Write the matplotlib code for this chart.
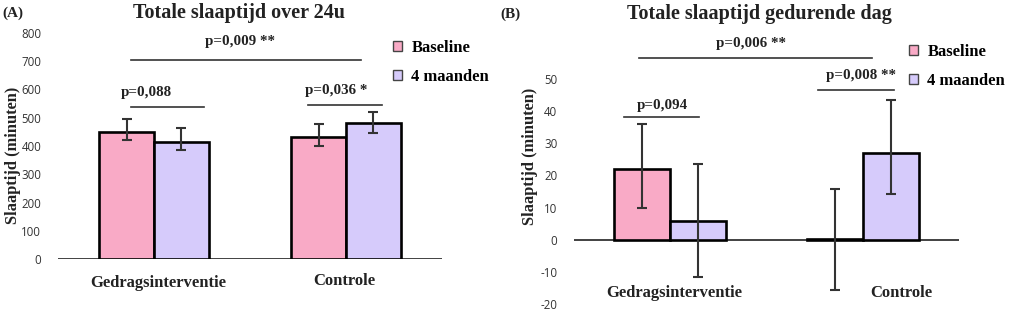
import matplotlib.pyplot as plt
from matplotlib.patches import Patch

# data
groups = ["Gedragsinterventie", "Controle"]
series = ["Baseline", "4 maanden"]

a_baseline = [451, 433]
a_baseline_lo = [30, 33]
a_baseline_hi = [44, 45]
a_followup = [415, 480]
a_followup_lo = [29, 33]
a_followup_hi = [48, 41]

b_baseline = [22.0, 0.2]
b_baseline_lo = [12.0, 15.9]
b_baseline_hi = [13.9, 15.6]
b_followup = [5.8, 26.9]
b_followup_lo = [17.5, 12.8]
b_followup_hi = [17.8, 16.7]

a_ticks = [0, 100, 200, 300, 400, 500, 600, 700, 800]
b_ticks = [-20, -10, 0, 10, 20, 30, 40, 50]

# significance brackets: (x0, x1, y, label, label_x, label_y)
a_sig = [(-0.12, 0.26, 538, "p=0,088", -0.04, 588),
         (0.80, 1.19, 546, "p=0,036 *", 0.95, 598),
         (-0.12, 1.08, 705, "p=0,009 **", 0.45, 770)]
b_sig = [(-0.24, 0.15, 38.2, "p=0,094", -0.04, 41.6),
         (0.77, 1.16, 46.6, "p=0,008 **", 0.99, 51.0),
         (-0.16, 1.05, 56.4, "p=0,006 **", 0.42, 61.0)]

PINK = "#f9aac6"
LAVENDER = "#d6cbfb"
DARK = "#333333"
TEXT = "#222222"
SERIF = "Liberation Serif"

W, H = 1024, 324
fig = plt.figure(figsize=(W / 100, H / 100), dpi=100)


def px_axes(x0, x1, y_top, y_bottom):
    return fig.add_axes([x0 / W, 1 - y_bottom / H, (x1 - x0) / W, (y_bottom - y_top) / H])


def draw_panel(ax, base, base_lo, base_hi, fup, fup_lo, fup_hi, ticks, sig, width):
    x = [0, 1]
    xb = [v - width / 2 for v in x]
    xf = [v + width / 2 for v in x]
    ax.axhline(0, color=DARK, lw=1.3, zorder=1)
    ax.bar(xb, base, width, color=PINK, edgecolor="black", linewidth=1.9, zorder=2)
    ax.bar(xf, fup, width, color=LAVENDER, edgecolor="black", linewidth=1.9, zorder=2)
    ax.errorbar(xb, base, yerr=[base_lo, base_hi], fmt="none", ecolor=DARK,
                elinewidth=1.5, capsize=3.5, capthick=1.5, zorder=3)
    ax.errorbar(xf, fup, yerr=[fup_lo, fup_hi], fmt="none", ecolor=DARK,
                elinewidth=1.5, capsize=3.5, capthick=1.5, zorder=3)
    for x0, x1, y, label, lx, ly in sig:
        ax.plot([x0, x1], [y, y], color=DARK, lw=1.2, clip_on=False)
        ax.text(lx, ly, label, ha="center", va="center", family=SERIF,
                fontweight="bold", fontsize=10.8, color=TEXT, clip_on=False)
    ax.set_xlim(-0.5, 1.5)
    ax.set_yticks(ticks)
    ax.set_yticklabels([str(t) for t in ticks], family="Open Sans", fontsize=8.3, color=DARK)
    ax.tick_params(axis="y", length=0, pad=12)
    ax.set_xticks([])
    for s in ax.spines.values():
        s.set_visible(False)
    ax.patch.set_alpha(0)


# panel A
ax_a = px_axes(58, 442, 33, 259)
ax_a.set_ylim(0, 800)
draw_panel(ax_a, a_baseline, a_baseline_lo, a_baseline_hi,
           a_followup, a_followup_lo, a_followup_hi, a_ticks, a_sig, 0.285)
ax_a.text(0.02, -85, groups[0], ha="center", va="center", family=SERIF,
          fontweight="bold", fontsize=12, color=TEXT)
ax_a.text(0.99, -78, groups[1], ha="center", va="center", family=SERIF,
          fontweight="bold", fontsize=12, color=TEXT)

# panel B
ax_b = px_axes(574, 959, 79, 304)
ax_b.set_ylim(-20, 50)
draw_panel(ax_b, b_baseline, b_baseline_lo, b_baseline_hi,
           b_followup, b_followup_lo, b_followup_hi, b_ticks, b_sig, 0.29)
ax_b.text(0.02, -16.5, groups[0], ha="center", va="center", family=SERIF,
          fontweight="bold", fontsize=12, color=TEXT)
ax_b.text(1.2, -16.5, groups[1], ha="center", va="center", family=SERIF,
          fontweight="bold", fontsize=12, color=TEXT)

# titles, panel letters, y labels
fig.text(239 / W, 1 - 13 / H, "Totale slaaptijd over 24u", ha="center", va="center",
         family=SERIF, fontweight="bold", fontsize=14.5, color=TEXT)
fig.text(759 / W, 1 - 14 / H, "Totale slaaptijd gedurende dag", ha="center", va="center",
         family=SERIF, fontweight="bold", fontsize=14.5, color=TEXT)
fig.text(2 / W, 1 - 13 / H, "(A)", ha="left", va="center", family=SERIF,
         fontweight="bold", fontsize=11, color=TEXT)
fig.text(500 / W, 1 - 14 / H, "(B)", ha="left", va="center", family=SERIF,
         fontweight="bold", fontsize=11, color=TEXT)
fig.text(13 / W, 1 - 155 / H, "Slaaptijd (minuten)", rotation=90, ha="center", va="center",
         family=SERIF, fontweight="bold", fontsize=11.8, color=TEXT)
fig.text(530 / W, 1 - 156 / H, "Slaaptijd (minuten)", rotation=90, ha="center", va="center",
         family=SERIF, fontweight="bold", fontsize=11.8, color=TEXT)

# legends
handles = [Patch(facecolor=PINK, edgecolor="#444444", linewidth=1.0),
           Patch(facecolor=LAVENDER, edgecolor="#444444", linewidth=1.0)]
for x_anchor, y_anchor in [(393, 40), (909, 44)]:
    fig.legend(handles, series, loc="upper left",
               bbox_to_anchor=(x_anchor / W, 1 - y_anchor / H), frameon=False,
               prop={"family": SERIF, "weight": "bold", "size": 12},
               handlelength=0.55, handleheight=0.55, handletextpad=0.55,
               labelspacing=0.8, borderaxespad=0, borderpad=0)

fig.savefig("out.png", dpi=100)
